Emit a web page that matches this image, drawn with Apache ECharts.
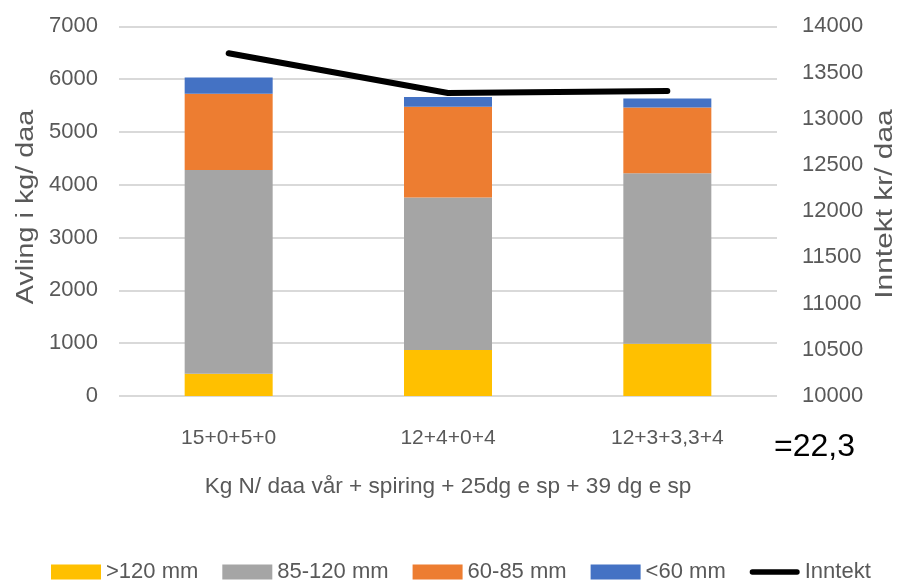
<!DOCTYPE html>
<html>
<head>
<meta charset="utf-8">
<script src="https://cdn.jsdelivr.net/npm/echarts@6/dist/echarts.min.js"></script>
<style>
  html, body { margin: 0; padding: 0; background: #fff; }
  #chart { width: 897px; height: 583px; }
</style>
</head>
<body>
<div id="chart"></div>
<script>
// Nitrogen split treatments (kg N/daa at spring + sprouting + 25 d + 39 d after sprouting)
const categories = ['15+0+5+0', '12+4+0+4', '12+3+3,3+4'];

// Yield by tuber size class, kg/daa
const over120 = [420, 870, 990];
const size85to120 = [3860, 2890, 3230];
const size60to85 = [1445, 1720, 1245];
const under60 = [305, 185, 170];

// Income, kr/daa
const inntekt = [13710, 13280, 13300];

// Axis ranges
const yieldAxis = { min: 0, max: 7000, interval: 1000 };
const incomeAxis = { min: 10000, max: 14000, interval: 500 };

const FONT = '"Liberation Sans", Arial, sans-serif';
const GREY_TEXT = '#595959';

// Rounded bar used as the legend key for the income line
const LINE_KEY = 'path://M3,0 L54,0 A3,3 0 0 1 54,6 L3,6 A3,3 0 0 1 3,0 Z';

const chart = echarts.init(document.getElementById('chart'), null, { renderer: 'canvas' });

function barSeries(name, data, color) {
  return {
    name: name,
    type: 'bar',
    stack: 'avling',
    barWidth: 88,
    data: data,
    itemStyle: { color: color },
    emphasis: { disabled: true }
  };
}

// Vertical axis titles, drawn a little stretched along their length
function verticalTitle(text, x, y, stretch) {
  return {
    type: 'text',
    x: x,
    y: y,
    rotation: Math.PI / 2,
    scaleX: stretch,
    style: {
      text: text,
      fill: GREY_TEXT,
      fontSize: 23,
      fontFamily: FONT,
      align: 'center',
      verticalAlign: 'middle'
    }
  };
}

chart.setOption({
  animation: false,
  backgroundColor: '#ffffff',
  textStyle: { fontFamily: FONT },
  grid: { left: 119, right: 120, top: 26.4, bottom: 187, containLabel: false, outerBoundsMode: 'none' },
  xAxis: {
    type: 'category',
    data: categories,
    axisLine: { show: false },
    axisTick: { show: false },
    axisLabel: { color: GREY_TEXT, fontSize: 21, margin: 32, fontFamily: FONT },
    name: 'Kg N/ daa vår + spiring + 25dg e sp + 39 dg e sp',
    nameLocation: 'middle',
    nameGap: 79,
    nameTextStyle: { color: GREY_TEXT, fontSize: 22.6, fontFamily: FONT }
  },
  yAxis: [
    {
      type: 'value',
      min: yieldAxis.min,
      max: yieldAxis.max,
      interval: yieldAxis.interval,
      axisLine: { show: false },
      axisTick: { show: false },
      splitLine: { show: true, lineStyle: { color: '#D9D9D9', width: 2 } },
      axisLabel: { color: GREY_TEXT, fontSize: 22, margin: 21, fontFamily: FONT,
        formatter: function (v) { return String(v); } }
    },
    {
      type: 'value',
      position: 'right',
      min: incomeAxis.min,
      max: incomeAxis.max,
      interval: incomeAxis.interval,
      axisLine: { show: false },
      axisTick: { show: false },
      splitLine: { show: false },
      axisLabel: { color: GREY_TEXT, fontSize: 22, margin: 25, fontFamily: FONT,
        formatter: function (v) { return String(v); } }
    }
  ],
  legend: {
    left: 46,
    top: 556,
    itemWidth: 50,
    itemHeight: 15,
    itemGap: 24,
    selectedMode: false,
    textStyle: { color: GREY_TEXT, fontSize: 22, fontFamily: FONT },
    data: [
      { name: '>120 mm', icon: 'rect' },
      { name: '85-120 mm', icon: 'rect' },
      { name: '60-85 mm', icon: 'rect' },
      { name: '<60 mm', icon: 'rect' },
      { name: 'Inntekt', icon: LINE_KEY, itemStyle: { color: '#000' } }
    ]
  },
  graphic: [
    verticalTitle('Avling i kg/ daa', 27, 207, 1.25),
    verticalTitle('Inntekt kr/ daa', 886, 204, 1.3),
    {
      type: 'text',
      left: 774,
      top: 431,
      style: { text: '=22,3', fill: '#000', fontSize: 32, fontFamily: FONT }
    }
  ],
  series: [
    barSeries('>120 mm', over120, '#FFC000'),
    barSeries('85-120 mm', size85to120, '#A5A5A5'),
    barSeries('60-85 mm', size60to85, '#ED7D31'),
    barSeries('<60 mm', under60, '#4472C4'),
    {
      name: 'Inntekt',
      type: 'line',
      yAxisIndex: 1,
      data: inntekt,
      symbol: 'none',
      z: 5,
      lineStyle: { color: '#000', width: 6, cap: 'round', join: 'round' },
      itemStyle: { color: '#000' },
      emphasis: { disabled: true }
    }
  ]
});
</script>
</body>
</html>
